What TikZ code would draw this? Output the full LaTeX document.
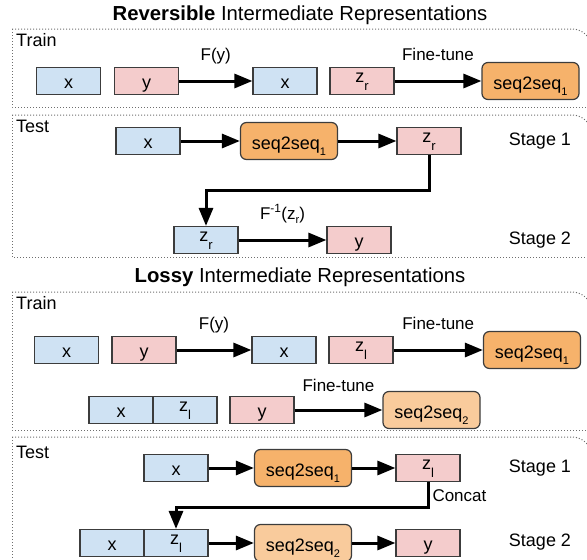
\documentclass[tikz,border=0pt]{standalone}
\usepackage{fontspec}
\setmainfont{Liberation Sans}
\usepackage{tikz}
\usetikzlibrary{arrows.meta,positioning}
\usepackage{xcolor}
\definecolor{irblue}{RGB}{207,226,243}
\definecolor{irpink}{RGB}{244,204,204}
\definecolor{irorange}{RGB}{246,178,107}
\definecolor{irlightorange}{RGB}{249,203,156}
\definecolor{irgray}{RGB}{60,60,60}
\definecolor{irdots}{RGB}{110,110,110}
\newcommand{\irsub}[2]{\raisebox{6pt}{#1\raisebox{-8.5pt}{\fontsize{13}{13}\selectfont #2}}}
\newcommand{\seqsub}[1]{seq2seq\raisebox{-6.5pt}{\fontsize{11}{11}\selectfont #1}}
\tikzstyle{arrow} = [line width=3pt,-{Triangle[length=18pt,width=14pt]}]
\tikzstyle{irbox} = [rectangle, draw=irgray, line width=1.2pt, minimum width=64pt, minimum height=27pt, inner sep=0pt, text height=14pt, text depth=0pt, font=\fontsize{18}{20}\selectfont]
\tikzstyle{xbox} = [irbox, fill=irblue]
\tikzstyle{ybox} = [irbox, fill=irpink]
\tikzstyle{seqbox} = [rectangle, rounded corners=6pt, draw=irgray, line width=1.2pt, minimum width=97pt, minimum height=37pt, inner sep=0pt, text height=16pt, text depth=0pt, font=\fontsize{18}{20}\selectfont]
\tikzstyle{panel} = [dotted, draw=irdots, line width=1pt]
\tikzstyle{edgelabel} = [font=\fontsize{17}{19}\selectfont, inner sep=2pt, text height=12.5pt, text depth=3.5pt]
\tikzstyle{stagelabel} = [font=\fontsize{18}{20}\selectfont, inner sep=0pt]
\tikzstyle{titlelabel} = [font=\fontsize{20.3}{22}\selectfont, inner sep=0pt]

\begin{document}
\begin{tikzpicture}[x=1pt, y=-1pt]
    \useasboundingbox (0,0) rectangle (587,560);

    % Reversible
    \node[titlelabel] (revtitle) at (300, 15) {\textbf{Reversible} Intermediate Representations};

    % Reversible: train
    \draw[panel] (12,29) -- (12,107) -- (600,107);
    \draw[panel, rounded corners=20pt] (12,29) -- (592,29) -- (592,107);
    \node[stagelabel, anchor=west] (revtrain) at (16, 40) {Train};
    \node[xbox] (rtrainx) at (68.5, 81) {x};
    \node[ybox] (rtrainy) at (146.5, 81) {y};
    \node[xbox] (rtrainfx) at (285, 81) {x};
    \node[ybox] (rtrainzr) at (362, 81) {\irsub{z}{r}};
    \node[seqbox, fill=irorange] (rtrainseq) at (530.5, 81) {\seqsub{1}};
    \draw[arrow] (rtrainy) -- (rtrainfx) node[edgelabel, midway, above=14pt] (rfy) {F(y)};
    \draw[arrow] (rtrainzr) -- (rtrainseq) node[edgelabel, midway, above=14pt] (rtune) {Fine-tune};

    % Reversible: test
    \draw[panel] (12,115) -- (12,257) -- (600,257);
    \draw[panel, rounded corners=20pt] (12,115) -- (592,115) -- (592,257);
    \node[stagelabel, anchor=west] (revtest) at (16, 126) {Test};
    \node[xbox] (rtestx) at (148, 141) {x};
    \node[seqbox, fill=irorange] (rtestseq) at (289, 141) {\seqsub{1}};
    \node[ybox] (rtestzr) at (429, 141) {\irsub{z}{r}};
    \node[stagelabel] (rstage1) at (540, 141) {Stage 1};
    \node[xbox] (rtestzr2) at (206, 240) {\irsub{z}{r}};
    \node[ybox] (rtesty) at (359, 240) {y};
    \node[stagelabel] (rstage2) at (540, 240) {Stage 2};
    \draw[arrow] (rtestx) -- (rtestseq);
    \draw[arrow] (rtestseq) -- (rtestzr);
    \draw[arrow] (rtestzr.south) -- ++(0,35) -| (rtestzr2.north);
    \draw[arrow] (rtestzr2) -- (rtesty) node[edgelabel, midway, above=14pt] (rfinv) {F\textsuperscript{-1}(z\raisebox{-4pt}{\fontsize{11}{11}\selectfont r})};

    % Lossy
    \node[titlelabel] (losstitle) at (300, 277) {\textbf{Lossy} Intermediate Representations};

    % Lossy: train
    \draw[panel] (12,292) -- (12,430) -- (600,430);
    \draw[panel, rounded corners=20pt] (12,292) -- (592,292) -- (592,430);
    \node[stagelabel, anchor=west] (losstrain) at (16, 303) {Train};
    \node[xbox] (ltrainx) at (66.5, 350) {x};
    \node[ybox] (ltrainy) at (144, 350) {y};
    \node[xbox] (ltrainfx) at (284, 350) {x};
    \node[ybox] (ltrainzl) at (361, 350) {\irsub{z}{l}};
    \node[seqbox, fill=irorange] (ltrainseq) at (532, 350) {\seqsub{1}};
    \draw[arrow] (ltrainy) -- (ltrainfx) node[edgelabel, midway, above=14pt] (lfy) {F(y)};
    \draw[arrow] (ltrainzl) -- (ltrainseq) node[edgelabel, midway, above=14pt] (ltune) {Fine-tune};
    \node[xbox] (ltrainx2) at (121, 410) {x};
    \node[xbox] (ltrainzl2) at (185, 410) {\irsub{z}{l}};
    \node[ybox] (ltrainy2) at (262, 410) {y};
    \node[seqbox, fill=irlightorange] (ltrainseq2) at (431.5, 410) {\seqsub{2}};
    \draw[arrow] (ltrainy2) -- (ltrainseq2) node[edgelabel, midway, above=12pt] (ltune2) {Fine-tune};

    % Lossy: test
    \draw[panel] (12,437) -- (12,570);
    \draw[panel, rounded corners=20pt] (12,437) -- (592,437) -- (592,570);
    \node[stagelabel, anchor=west] (losstest) at (16, 452) {Test};
    \node[xbox] (ltestx) at (176, 468) {x};
    \node[seqbox, fill=irorange] (ltestseq) at (303, 468) {\seqsub{1}};
    \node[ybox] (ltestzl) at (428, 468) {\irsub{z}{l}};
    \node[stagelabel] (lstage1) at (540, 468) {Stage 1};
    \node[xbox] (ltestx2) at (112, 543) {x};
    \node[xbox] (ltestzl2) at (176, 543) {\irsub{z}{l}};
    \node[seqbox, fill=irlightorange] (ltestseq2) at (303, 543) {\seqsub{2}};
    \node[ybox] (ltesty) at (428, 543) {y};
    \node[stagelabel] (lstage2) at (540, 542) {Stage 2};
    \draw[arrow] (ltestx) -- (ltestseq);
    \draw[arrow] (ltestseq) -- (ltestzl);
    \draw[arrow] (ltestzl.south) -- ++(0,25) node[edgelabel, pos=0.6, right=1pt] (lconcat) {Concat} -| (ltestzl2.north);
    \draw[arrow] (ltestzl2) -- (ltestseq2);
    \draw[arrow] (ltestseq2) -- (ltesty);
\end{tikzpicture}
\end{document}
